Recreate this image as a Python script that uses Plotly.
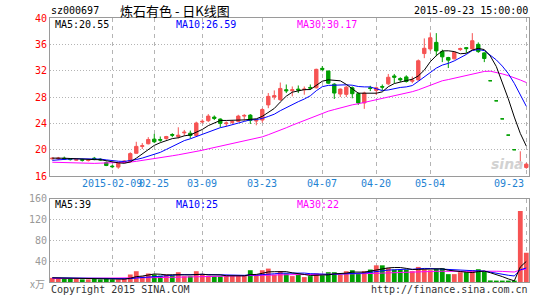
import plotly.graph_objects as go
import pandas as pd

# ---------------- data ----------------
DATE_TICK_IDX = [10, 17, 25, 35, 45, 54, 63, 79]
DATE_TICK_TEXT = ["2015-02-09", "02-25", "03-09", "03-23", "04-07", "04-20", "05-04", "09-23"]

OPEN = [18.6, 18.6, 18.7, 18.6, 18.4, 18.5, 18.35, 18.7, 18.55, 18.03,
        17.5, 17.35, 18.03, 18.2, 19.45, 20.5, 20.9, 21.6, 21.55, 21.7,
        22.3, 22.0, 22.55, 22.5, 22.15, 24.2, 24.4, 24.95, 24.65, 23.95,
        24.15, 24.3, 25.1, 25.25, 24.35, 24.5, 26.8, 28.0, 27.6, 29.1,
        28.95, 29.2, 29.1, 29.45, 29.4, 32.35, 31.95, 29.95, 28.45, 28.4,
        29.4, 28.5, 27.1, 29.4, 29.0, 29.6, 30.0, 31.2, 30.8, 31.05,
        30.4, 30.6, 34.6, 35.3, 36.3, 34.9, 34.0, 33.8, 35.2, 35.5,
        35.3, 36.0, 34.7, 30.47, 27.42, 24.68, 22.21, 19.99, 17.99, 17.3]
HIGH = [18.8, 18.9, 18.95, 18.7, 18.6, 18.6, 18.55, 18.9, 18.7, 18.2,
        17.7, 18.0, 18.4, 19.6, 21.2, 21.0, 21.9, 22.4, 22.0, 22.1,
        22.5, 23.4, 23.0, 22.9, 24.25, 24.6, 25.4, 25.2, 24.75, 24.3,
        24.45, 25.3, 25.4, 25.4, 24.65, 26.3, 28.6, 29.0, 30.2, 29.9,
        29.6, 29.75, 29.6, 29.9, 32.3, 32.7, 32.0, 30.1, 29.3, 29.7,
        29.6, 28.7, 28.8, 29.7, 29.6, 29.9, 31.5, 31.5, 31.0, 31.3,
        31.1, 33.7, 36.9, 37.8, 37.7, 35.2, 34.1, 34.9, 35.5, 35.6,
        37.7, 36.3, 34.8, 30.47, 27.42, 24.68, 22.21, 19.99, 19.75, 18.0]
LOW = [18.5, 18.45, 18.5, 18.35, 18.3, 18.2, 18.2, 18.4, 18.3, 17.5,
       17.2, 17.1, 17.95, 18.1, 19.4, 20.1, 20.8, 21.0, 21.2, 21.5,
       21.9, 21.7, 22.1, 21.7, 22.0, 24.0, 24.2, 24.5, 23.4, 23.5,
       23.9, 24.2, 24.4, 23.9, 23.7, 24.1, 26.3, 27.6, 27.4, 28.6,
       28.1, 28.6, 28.35, 29.1, 29.3, 31.9, 30.0, 27.7, 28.0, 28.0,
       27.8, 26.8, 26.2, 28.9, 28.3, 29.0, 29.8, 30.1, 30.3, 30.2,
       30.1, 30.5, 33.9, 35.0, 34.2, 33.3, 32.4, 33.7, 35.0, 34.7,
       35.2, 34.7, 33.3, 30.47, 27.42, 24.68, 22.21, 19.99, 17.99, 17.1]
CLOSE = [18.7, 18.7, 18.6, 18.5, 18.5, 18.4, 18.45, 18.6, 18.45, 17.6,
         17.42, 17.93, 18.28, 19.4, 20.5, 20.6, 21.55, 21.2, 21.45, 22.0,
         22.2, 22.2, 22.65, 22.15, 24.05, 24.3, 25.1, 24.75, 24.0, 24.05,
         24.25, 25.1, 25.2, 24.45, 24.45, 26.1, 28.1, 28.2, 29.3, 28.95,
         29.1, 29.05, 29.2, 29.35, 32.2, 32.2, 30.1, 28.6, 29.2, 29.5,
         28.5, 27.1, 28.6, 29.3, 29.4, 29.5, 31.0, 31.0, 30.6, 30.35,
         30.55, 33.5, 35.4, 37.0, 35.0, 34.1, 33.6, 34.8, 35.35, 35.35,
         36.55, 34.9, 33.85, 30.47, 27.42, 24.68, 22.21, 19.99, 18.05, 17.8]
VOLUME = [8, 8, 7, 7, 6, 5, 5, 6, 5, 6,
          5, 5, 6, 14.4, 20.7, 11, 16.3, 14.4, 12, 14.4,
          12.6, 18.8, 11, 11, 20.7, 14, 12, 11, 11, 12,
          12, 12, 12, 22.6, 14, 22.6, 25.7, 14, 20.7, 16.3,
          11.3, 14.4, 9.4, 11.3, 16.3, 12.6, 18.8, 18.8, 14.4, 20.7,
          22.6, 16.3, 20.7, 23.9, 32, 32, 27, 23.9, 23.9, 23.9,
          20.7, 28.9, 23.9, 22.6, 25.1, 26.4, 15.1, 15.1, 18.8, 18.8,
          22.6, 24.5, 20, 3, 2.5, 2, 2, 1.5, 136, 56]
# closes / volumes of the 29 sessions before the first drawn one (MA warm-up)
PRE_CLOSE = [19.8, 19.6, 19.9, 19.7, 19.5, 18.6, 17.9, 17.4, 17.2, 17.0,
             17.1, 17.3, 17.2, 17.0, 16.9, 17.1, 17.3, 17.4, 17.6, 17.5,
             17.7, 17.9, 18.1, 18.2, 18.3, 18.6, 18.8, 18.7, 18.8]
PRE_VOLUME = [6, 5, 6, 7, 5, 6, 5, 4, 6, 5, 7, 6, 5, 6, 7, 6, 5, 6, 7, 8,
              9, 8, 7, 9, 8, 9, 8, 7, 8]

PRICE_TICKS = [16, 20, 24, 28, 32, 36, 40]
VOL_TICKS = [40, 80, 120, 160]

HEADER_CODE = "sz000697"
HEADER_TITLE = "炼石有色 - 日K线图"
HEADER_TIME = "2015-09-23 15:00:00"
PRICE_MA_TEXT = ["MA5:20.55", "MA10:26.59", "MA30:30.17"]
VOL_MA_TEXT = ["MA5:39", "MA10:25", "MA30:22"]

# ---------------- derived ----------------
n = len(CLOSE)
idx = list(range(n))
cs = pd.Series(PRE_CLOSE + CLOSE)
vs = pd.Series(PRE_VOLUME + VOLUME)
k = len(PRE_CLOSE)
ma = {w: cs.rolling(w, min_periods=1).mean().tolist()[k:] for w in (5, 10, 30)}
vma = {w: vs.rolling(w, min_periods=1).mean().tolist()[k:] for w in (5, 10, 30)}

UP = "#f65353"
DOWN = "#009f00"
MA_COLORS = {5: "#000000", 10: "#0000ff", 30: "#ff00ff"}
MONO = "DejaVu Sans Mono"

vol_colors = []
prev = None
for o, c in zip(OPEN, CLOSE):
    if c > o:
        up = True
    elif c < o:
        up = False
    else:
        up = prev is not None and c >= prev
    vol_colors.append(UP if up else DOWN)
    prev = c

fig = go.Figure()
for w in (30, 10, 5):
    fig.add_trace(go.Scatter(x=idx, y=ma[w], mode="lines", xaxis="x", yaxis="y",
                             line=dict(color=MA_COLORS[w], width=1), hoverinfo="skip"))
fig.add_trace(go.Candlestick(x=idx, open=OPEN, high=HIGH, low=LOW, close=CLOSE,
                             xaxis="x", yaxis="y", whiskerwidth=0,
                             increasing=dict(line=dict(color=UP, width=1), fillcolor=UP),
                             decreasing=dict(line=dict(color=DOWN, width=1), fillcolor=DOWN)))
fig.add_trace(go.Bar(x=idx, y=VOLUME, xaxis="x2", yaxis="y2", width=0.8,
                     marker=dict(color=vol_colors, line=dict(width=0))))
for w in (30, 10, 5):
    fig.add_trace(go.Scatter(x=idx, y=vma[w], mode="lines", xaxis="x2", yaxis="y2",
                             line=dict(color=MA_COLORS[w], width=1), hoverinfo="skip"))

L, R, T, B = 50, 16, 17, 14
W, H = 545, 300
PW, PH = W - L - R, H - T - B


def px(xpix):
    return (xpix - L) / PW


def py(ypix):
    return (H - B - ypix) / PH


grid = "#b4b4b4"
border = "#9a9a9a"
xr = [-0.38, 79.45]
axis_common = dict(showline=True, mirror=True, linecolor=border, linewidth=1, zeroline=False)

fig.update_layout(
    width=W, height=H, margin=dict(l=L, r=R, t=T, b=B),
    paper_bgcolor="white", plot_bgcolor="white", showlegend=False,
    boxgap=0.2, bargap=0.2,
    xaxis=dict(domain=[0, 1], anchor="y", range=xr, tickvals=DATE_TICK_IDX,
               showticklabels=False, ticks="", showgrid=True, gridcolor=grid,
               griddash="4px,4px", gridwidth=1, rangeslider=dict(visible=False),
               **axis_common),
    yaxis=dict(domain=[py(178), 1], anchor="x", range=[16, 40], tickvals=PRICE_TICKS,
               tickfont=dict(family=MONO, size=10, color="#ff0000"), ticks="",
               showgrid=True, gridcolor=grid, griddash="1px,2px", **axis_common),
    xaxis2=dict(domain=[0, 1], anchor="y2", range=xr, tickvals=DATE_TICK_IDX,
                showticklabels=False, ticks="", showgrid=True, gridcolor=grid,
                griddash="4px,4px", gridwidth=1, **axis_common),
    yaxis2=dict(domain=[0, py(201)], anchor="x2", range=[0, 160], tickvals=VOL_TICKS,
                tickfont=dict(family=MONO, size=10, color="#999999"), ticks="",
                showgrid=True, gridcolor=grid, griddash="1px,2px", **axis_common),
)

ann = []


def text(xpix, ypix, s, color="#000000", size=10, anchor="left", family=MONO):
    ann.append(dict(x=px(xpix), y=py(ypix), xref="paper", yref="paper", text=s,
                    showarrow=False, xanchor=anchor, yanchor="middle",
                    font=dict(family=family, size=size, color=color)))


text(49, 9, HEADER_CODE)
text(118, 9, HEADER_TITLE, size=13, family="Noto Sans CJK SC")
text(530, 9, HEADER_TIME, anchor="right")
for s, xp, col in zip(PRICE_MA_TEXT, [53, 174, 295], ["#000000", "#0000ff", "#ff00ff"]):
    text(xp, 24, s, color=col)
for s, xp, col in zip(VOL_MA_TEXT, [53, 174, 295], ["#000000", "#0000ff", "#ff00ff"]):
    text(xp, 207, s, color=col)
# date labels under the price panel
for i, s in zip(DATE_TICK_IDX, DATE_TICK_TEXT):
    xpix = L + (i - xr[0]) / (xr[1] - xr[0]) * PW
    if i == DATE_TICK_IDX[-1]:
        text(526, 186, s, color="#1e82d2", anchor="right")
    else:
        text(xpix, 186, s, color="#1e82d2", anchor="center")
text(47, 288, "x万", color="#999999", anchor="right", family="Noto Sans CJK SC")
text(49, 294, "Copyright 2015 SINA.COM", color="#333333")
text(530, 294, "http://finance.sina.com.cn", color="#333333", anchor="right")
# faint watermark
ann.append(dict(x=px(507), y=py(166), xref="paper", yref="paper", text="<b><i>sina</i></b>",
                showarrow=False, xanchor="center", yanchor="middle",
                font=dict(family="DejaVu Sans", size=14, color="#d2d2d2")))
fig.update_layout(annotations=ann)

fig.write_html("out.html")
